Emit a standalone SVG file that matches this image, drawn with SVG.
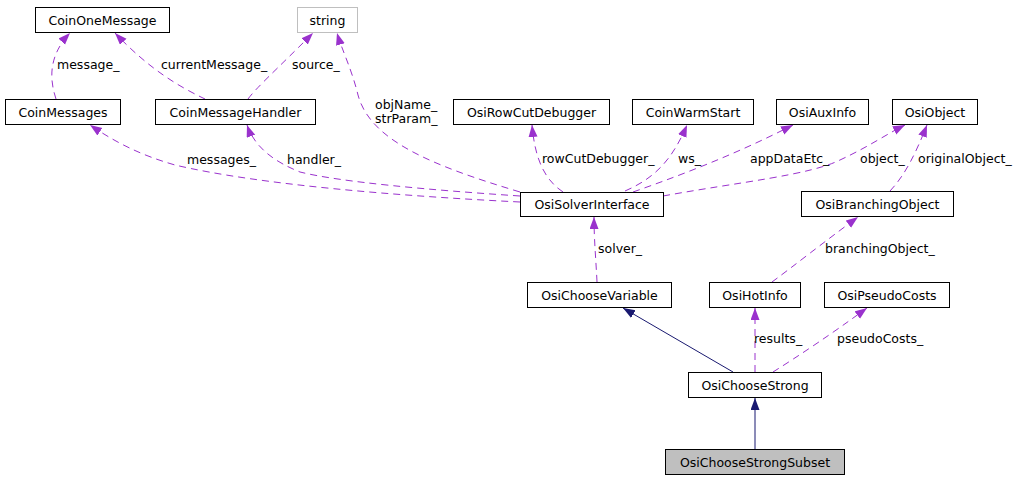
<svg xmlns="http://www.w3.org/2000/svg" width="1021" height="479" viewBox="0 0 1021 479">
<style>
text{font-family:"DejaVu Sans",sans-serif;font-size:12.5px;fill:#000}
.n rect{fill:#fff;stroke:#000;stroke-width:1}
.n text{text-anchor:middle}
.u{fill:none;stroke:#9a32cd;stroke-width:1;stroke-dasharray:7,5;marker-end:url(#pa)}
.i{fill:none;stroke:#191970;stroke-width:1;marker-end:url(#ba)}
</style>
<defs>
<marker id="pa" markerUnits="userSpaceOnUse" markerWidth="13" markerHeight="10" refX="12" refY="4.5" orient="auto"><path d="M0,0 L12,4.5 L0,9 z" fill="#9a32cd"/></marker>
<marker id="ba" markerUnits="userSpaceOnUse" markerWidth="13" markerHeight="10" refX="12" refY="4.5" orient="auto"><path d="M0,0 L12,4.5 L0,9 z" fill="#191970"/></marker>
</defs>
<rect width="1021" height="479" fill="#fff"/>
<g id="edges">
<path class="u" d="M56,99 C49,78 49,55 70,33"/>
<path class="u" d="M205,99 C180,87 150,70 115,33"/>
<path class="u" d="M248,99 C256,88 276,70 313,33"/>
<path class="u" d="M520,192 C430,165 370,140 358,95 C352,70 342,50 337,33"/>
<path class="u" d="M520,202 C400,196 260,185 175,165 C140,155 115,142 90,125"/>
<path class="u" d="M520,196 C430,190 340,182 300,172 C275,162 255,148 247,125"/>
<path class="u" d="M563,192 C545,180 535,160 532,125"/>
<path class="u" d="M625,191 C655,178 672,160 687,125"/>
<path class="u" d="M633,192 C690,172 740,152 793,125"/>
<path class="u" d="M663,196 C740,182 810,175 840,160 C870,146 885,135 905,125"/>
<path class="u" d="M890,191 C905,175 915,155 927,125"/>
<path class="u" d="M597,282 C596,260 594,240 594,217"/>
<path class="u" d="M772,282 C795,265 820,245 858,217"/>
<path class="i" d="M733,372 L623,308"/>
<path class="u" d="M755,372 L755,308"/>
<path class="u" d="M773,372 C800,355 830,335 867,308"/>
<path class="i" d="M755,449 L755,398"/>
<text x="57" y="69">message_</text>
<text x="161" y="69">currentMessage_</text>
<text x="292" y="69">source_</text>
<text x="375" y="109">objName_</text>
<text x="375" y="123">strParam_</text>
<text x="187" y="164">messages_</text>
<text x="287" y="164">handler_</text>
<text x="542" y="163">rowCutDebugger_</text>
<text x="678" y="163">ws_</text>
<text x="750" y="163">appDataEtc_</text>
<text x="860" y="163">object_</text>
<text x="918" y="163">originalObject_</text>
<text x="598" y="253">solver_</text>
<text x="825" y="253">branchingObject_</text>
<text x="754" y="343">results_</text>
<text x="837" y="343">pseudoCosts_</text>
</g>
<g id="CoinOneMessage" class="n"><rect x="35.5" y="7.5" width="134" height="25"/><text x="102.5" y="24.5">CoinOneMessage</text></g>
<g id="string" class="n"><rect x="297.5" y="7.5" width="60" height="25" style="stroke:#bfbfbf"/><text x="327.5" y="24.5">string</text></g>
<g id="CoinMessages" class="n"><rect x="5.5" y="99.5" width="115" height="25"/><text x="63" y="116.5">CoinMessages</text></g>
<g id="CoinMessageHandler" class="n"><rect x="155.5" y="99.5" width="160" height="25"/><text x="235.5" y="116.5">CoinMessageHandler</text></g>
<g id="OsiRowCutDebugger" class="n"><rect x="453.5" y="99.5" width="156" height="25"/><text x="531.5" y="116.5">OsiRowCutDebugger</text></g>
<g id="CoinWarmStart" class="n"><rect x="632.5" y="99.5" width="121" height="25"/><text x="693" y="116.5">CoinWarmStart</text></g>
<g id="OsiAuxInfo" class="n"><rect x="776.5" y="99.5" width="92" height="25"/><text x="822.5" y="116.5">OsiAuxInfo</text></g>
<g id="OsiObject" class="n"><rect x="892.5" y="99.5" width="85" height="25"/><text x="935" y="116.5">OsiObject</text></g>
<g id="OsiSolverInterface" class="n"><rect x="520.5" y="192.5" width="143" height="24"/><text x="592" y="209">OsiSolverInterface</text></g>
<g id="OsiBranchingObject" class="n"><rect x="801.5" y="191.5" width="152" height="25"/><text x="877.5" y="208.5">OsiBranchingObject</text></g>
<g id="OsiChooseVariable" class="n"><rect x="527.5" y="282.5" width="144" height="25"/><text x="599.5" y="299.5">OsiChooseVariable</text></g>
<g id="OsiHotInfo" class="n"><rect x="709.5" y="282.5" width="91" height="25"/><text x="755" y="299.5">OsiHotInfo</text></g>
<g id="OsiPseudoCosts" class="n"><rect x="824.5" y="282.5" width="125" height="25"/><text x="887" y="299.5">OsiPseudoCosts</text></g>
<g id="OsiChooseStrong" class="n"><rect x="688.5" y="372.5" width="133" height="25"/><text x="755" y="389.5">OsiChooseStrong</text></g>
<g id="OsiChooseStrongSubset" class="n"><rect x="665.5" y="449.5" width="179" height="25" style="fill:#bfbfbf"/><text x="755" y="466.5">OsiChooseStrongSubset</text></g>
</svg>
